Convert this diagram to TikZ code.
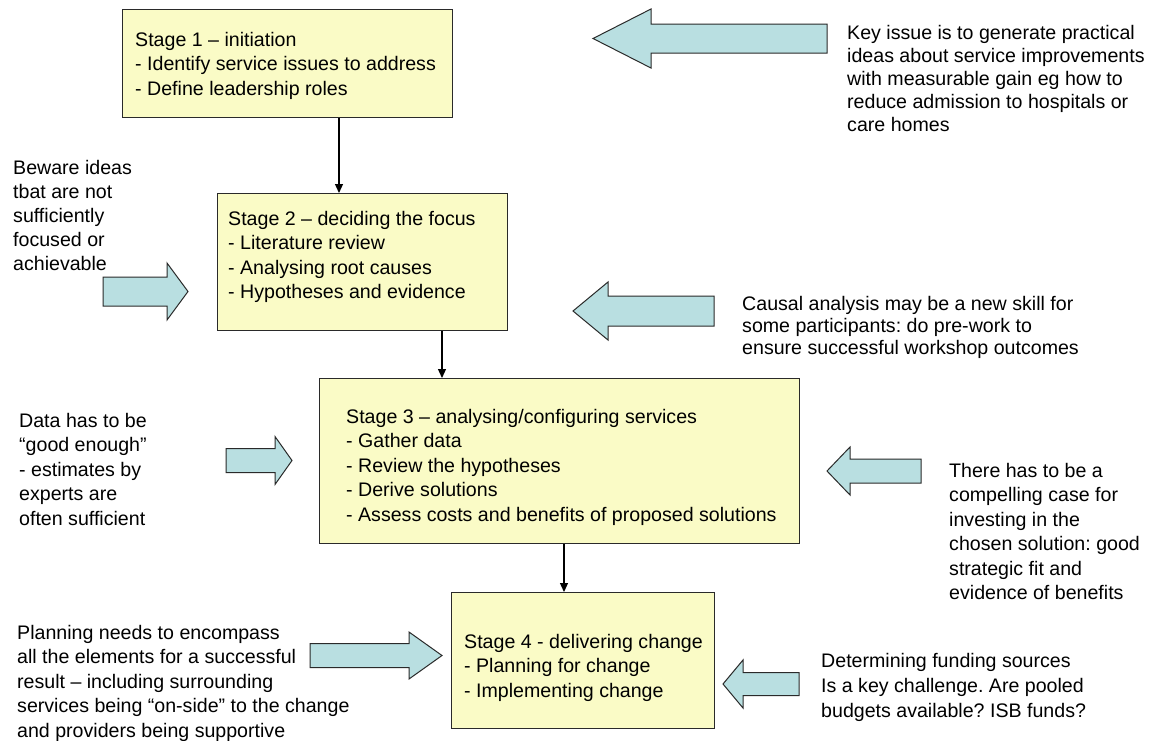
\documentclass[tikz,border=0pt]{standalone}
\usepackage{fontspec}
\setmainfont{Liberation Sans}
\usetikzlibrary{arrows.meta}
\frenchspacing
\definecolor{boxfill}{HTML}{FAFBC6}
\definecolor{arrowfill}{HTML}{B9DFE1}
\definecolor{edge}{HTML}{2A2A2A}
\newcommand{\blkarrow}[7]{% name, tipx, tipy, headx, headhalf, shafthalf, endx
  \draw[blk] (#2,#3) -- (#4,#3-#5) -- (#4,#3-#6) -- (#7,#3-#6) -- (#7,#3+#6) -- (#4,#3+#6) -- (#4,#3+#5) -- cycle;
  \coordinate (#1) at (#2,#3);}
\begin{document}
\begin{tikzpicture}[x=1pt,y=-1pt,
  stagebox/.style={draw=edge, fill=boxfill, line width=1pt, inner sep=0pt, anchor=north west},
  note/.style={anchor=north west, inner sep=0pt, align=left, text=black},
  fs/.style={font=\fontsize{19.6}{#1}\selectfont\frenchspacing},
  conn/.style={draw=black, line width=1.2pt, -{Triangle[length=9pt,width=8pt]}},
  blk/.style={draw=edge, fill=arrowfill, line width=1pt, line join=miter}]
\fill[white] (0,0) rectangle (1156,740);
\useasboundingbox (0,0) rectangle (1156,740);

% stage boxes
\node[stagebox, minimum width=330pt, minimum height=108pt] (s1) at (122,9) {};
\node[stagebox, minimum width=290pt, minimum height=137pt] (s2) at (217,193) {};
\node[stagebox, minimum width=480pt, minimum height=165pt] (s3) at (319,378) {};
\node[stagebox, minimum width=263pt, minimum height=136pt] (s4) at (451,592) {};

% stage texts
\node[note, fs=24.5] (t1) at (135,32) {Stage 1 – initiation\\- Identify service issues to address\\- Define leadership roles};
\node[note, fs=24.5] (t2) at (228,211) {Stage 2 – deciding the focus\\- Literature review\\- Analysing root causes\\- Hypotheses and evidence};
\node[note, fs=24.5] (t3) at (346,409) {Stage 3 – analysing/configuring services\\- Gather data\\- Review the hypotheses\\- Derive solutions\\- Assess costs and benefits of proposed solutions};
\node[note, fs=24.5] (t4) at (464,634) {Stage 4 - delivering change\\- Planning for change\\- Implementing change};

% connectors
\coordinate (x12) at (339,0);
\coordinate (x23) at (442,0);
\coordinate (x34) at (564,0);
\draw[conn] (s1.south -| x12) -- (s2.north -| x12);
\draw[conn] (s2.south -| x23) -- (s3.north -| x23);
\draw[conn] (s3.south -| x34) -- (s4.north -| x34);

% block arrows
\blkarrow{akey}{593}{38.5}{651}{29.5}{14.5}{827}
\blkarrow{acausal}{573}{311}{608}{29}{15}{714}
\blkarrow{athere}{827}{471}{850}{24}{12}{921}
\blkarrow{adeterm}{723}{684}{743}{24}{11.5}{799}
\blkarrow{abeware}{188}{291.5}{167}{28.5}{14.5}{103}
\blkarrow{adata}{292}{460.5}{275}{24}{12}{226}
\blkarrow{aplan}{442}{655.5}{409}{23.5}{12}{310}

% notes
\node[note, fs=23] (nkey) at (847,25) {Key issue is to generate practical\\ideas about service improvements\\with measurable gain eg how to\\reduce admission to hospitals or\\care homes};
\node[note, fs=24] (nbeware) at (13,160) {Beware ideas\\tbat are not\\sufficiently\\focused or\\achievable};
\node[note, fs=22] (ncausal) at (742,296) {Causal analysis may be a new skill for\\some participants: do pre-work to\\ensure successful workshop outcomes};
\node[note, fs=24.5] (ndata) at (19,413) {Data has to be\\“good enough”\\- estimates by\\experts are\\often sufficient};
\node[note, fs=24.4] (nthere) at (949,463) {There has to be a\\compelling case for\\investing in the\\chosen solution: good\\strategic fit and\\evidence of benefits};
\node[note, fs=24.5] (nplan) at (17,625) {Planning needs to encompass\\all the elements for a successful\\result – including surrounding\\services being “on-side” to the change\\and providers being supportive};
\node[note, fs=25] (ndeterm) at (821,653) {Determining funding sources\\Is a key challenge. Are pooled\\budgets available? ISB funds?};
\end{tikzpicture}
\end{document}
